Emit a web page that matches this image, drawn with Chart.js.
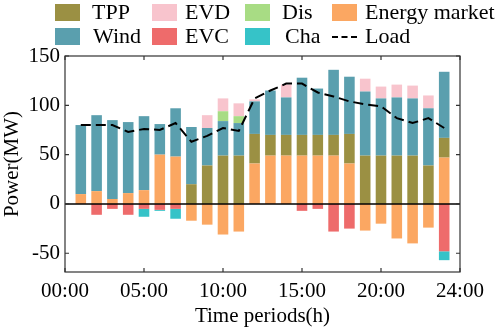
<!DOCTYPE html>
<html>
<head>
<meta charset="utf-8">
<script src="https://cdn.jsdelivr.net/npm/chart.js@4.4.1/dist/chart.umd.min.js"></script>
<style>
  html, body { margin: 0; padding: 0; background: #fff; }
  #wrap { position: relative; width: 498px; height: 331px; }
  #legend { position: absolute; left: 0; top: 0; width: 498px; height: 50px;
            font-family: "Liberation Serif", "Times New Roman", serif; font-size: 22px; color: #000; }
  .item { position: absolute; height: 20px; line-height: 20px; white-space: nowrap; }
  .box { position: absolute; left: 0; top: 1px; width: 25px; height: 17px; }
  .dash { position: absolute; left: 0; top: 9px; width: 25px; height: 0; border-top: 2px dashed #000; }
  .lbl { position: absolute; top: -1px; }
</style>
</head>
<body>
<div id="wrap">
  <canvas id="power-chart" width="498" height="331"></canvas>
  <div id="legend"></div>
</div>
<script>
// Time periods 1..24
const hours = [1,2,3,4,5,6,7,8,9,10,11,12,13,14,15,16,17,18,19,20,21,22,23,24];

const energyMarket = [10,13,5,11,14,50,48,-17,-21,-31,-28,41,49,49,49,49,49,41,-27,-20,-35,-40,-24,47];
const tpp  = [0,0,0,0,0,0,0,20,39,49,49,30,21,21,21,21,21,30,49,49,49,49,39,20];
const wind = [70,77,80,72,75,31,49,58,38,35,33,33,45,38,58,47,66,58,65,58,59,58,58,67];
const dis  = [0,0,0,0,0,0,0,0,0,10,7,0,0,0,0,0,0,0,0,0,0,0,0,0];
const evd  = [0,0,0,0,0,0,0,0,13,13,13,2,0,13,0,0,0,0,13,12,13,13,13,0];
const evc  = [0,-11,-5,-11,-5,-6,-5,0,0,0,0,0,0,0,-7,-5,-28,-25,0,0,0,0,0,-48];
const cha  = [0,0,0,0,-8,-1,-10,0,0,0,0,0,0,0,0,0,0,0,0,0,0,0,0,-9];
const load = [80,80,80,73,76,75,82,63,69,77,74,107,115,122,122,113,109,104,101,99,87,82,87,77];

const xTicks = [0,5,10,15,20,25];
const xTickLabels = ['00:00','05:00','10:00','15:00','20:00','24:00'];
const yTicks = [-50,0,50,100,150];

const colors = {
    tpp: '#9b9043',
    wind: '#5a9fae',
    evd: '#f8c4cd',
    dis: '#a8dc84',
    energy: '#fba762',
    evc: '#ee6b6b',
    cha: '#36c3c8'
};

const pts = arr => hours.map((h, i) => ({ x: h, y: arr[i] }));

const barSet = (label, arr, color) => ({
    type: 'bar',
    label: label,
    data: pts(arr),
    backgroundColor: color,
    borderWidth: 0,
    barPercentage: 0.67,
    categoryPercentage: 1,
    stack: 'power',
    order: 1
});

const serif = '"Liberation Serif", "Times New Roman", serif';

// frame, zero line and inward ticks
const framePlugin = {
    id: 'frame',
    afterDatasetsDraw(chart) {
        const { ctx, chartArea: a, scales } = chart;
        ctx.save();
        ctx.strokeStyle = '#000';
        ctx.lineWidth = 1.5;
        const y0 = scales.y.getPixelForValue(0);
        ctx.beginPath();
        ctx.moveTo(a.left, y0);
        ctx.lineTo(a.right, y0);
        ctx.stroke();
        ctx.strokeStyle = '#333';
        ctx.lineWidth = 1.2;
        ctx.strokeRect(a.left, a.top, a.right - a.left, a.bottom - a.top);
        ctx.beginPath();
        xTicks.forEach(v => {
            const x = scales.x.getPixelForValue(v);
            ctx.moveTo(x, a.bottom); ctx.lineTo(x, a.bottom - 4);
            ctx.moveTo(x, a.top); ctx.lineTo(x, a.top + 4);
        });
        yTicks.forEach(v => {
            const y = scales.y.getPixelForValue(v);
            ctx.moveTo(a.left, y); ctx.lineTo(a.left + 4, y);
            ctx.moveTo(a.right, y); ctx.lineTo(a.right - 4, y);
        });
        ctx.stroke();
        ctx.restore();
    }
};

const powerChart = new Chart(document.getElementById('power-chart').getContext('2d'), {
    data: {
        datasets: [
            {
                type: 'line',
                label: 'Load',
                data: pts(load),
                borderColor: '#000',
                borderWidth: 2,
                borderDash: [10, 5],
                pointRadius: 0,
                tension: 0,
                fill: false,
                stack: 'load',
                order: 0
            },
            barSet('Energy market', energyMarket, colors.energy),
            barSet('TPP', tpp, colors.tpp),
            barSet('Wind', wind, colors.wind),
            barSet('Dis', dis, colors.dis),
            barSet('EVD', evd, colors.evd),
            barSet('EVC', evc, colors.evc),
            barSet('Cha', cha, colors.cha)
        ]
    },
    options: {
        responsive: false,
        animation: false,
        layout: { padding: { top: 56, right: 38, left: 0, bottom: 0 } },
        plugins: {
            legend: { display: false },
            tooltip: { enabled: false }
        },
        scales: {
            x: {
                type: 'linear',
                stacked: true,
                offset: false,
                min: 0,
                max: 25,
                grid: { display: false, drawTicks: false, offset: false },
                border: { display: false },
                afterBuildTicks: s => { s.ticks = xTicks.map(v => ({ value: v })); },
                afterFit: s => { s.height = 59; },
                ticks: {
                    autoSkip: false,
                    maxRotation: 0,
                    padding: 7,
                    color: '#000',
                    font: { family: serif, size: 21 },
                    callback: v => xTickLabels[xTicks.indexOf(v)]
                },
                title: {
                    display: true,
                    text: 'Time periods(h)',
                    color: '#000',
                    padding: { top: 0, bottom: 2 },
                    font: { family: serif, size: 21 }
                }
            },
            y: {
                stacked: true,
                min: -69,
                max: 150,
                grid: { display: false, drawTicks: false },
                border: { display: false },
                afterBuildTicks: s => { s.ticks = yTicks.map(v => ({ value: v })); },
                afterFit: s => { s.width = 65; },
                ticks: {
                    padding: 5,
                    color: '#000',
                    font: { family: serif, size: 21 }
                },
                title: {
                    display: true,
                    text: 'Power(MW)',
                    color: '#000',
                    padding: 0,
                    font: { family: serif, size: 21 }
                }
            }
        }
    },
    plugins: [framePlugin]
});

// legend, laid out in two rows of four columns like the figure
const legendItems = [
    { label: 'TPP', color: colors.tpp, left: 55, top: 3 },
    { label: 'EVD', color: colors.evd, left: 152, top: 3 },
    { label: 'Dis', color: colors.dis, left: 245, top: 3 },
    { label: 'Energy market', color: colors.energy, left: 332, top: 3 },
    { label: 'Wind', color: colors.wind, left: 55, top: 27 },
    { label: 'EVC', color: colors.evc, left: 152, top: 27 },
    { label: 'Cha', color: colors.cha, left: 245, top: 27 },
    { label: 'Load', color: null, left: 332, top: 27 }
];
const textOffset = { 'TPP': 37, 'Wind': 38, 'EVD': 33, 'EVC': 33, 'Dis': 37, 'Cha': 40, 'Energy market': 33, 'Load': 33 };

const legendEl = document.getElementById('legend');
legendItems.forEach(it => {
    const d = document.createElement('div');
    d.className = 'item';
    d.style.left = it.left + 'px';
    d.style.top = it.top + 'px';
    const sym = document.createElement('div');
    if (it.color) {
        sym.className = 'box';
        sym.style.background = it.color;
    } else {
        sym.className = 'dash';
    }
    const t = document.createElement('span');
    t.className = 'lbl';
    t.style.left = textOffset[it.label] + 'px';
    t.textContent = it.label;
    d.appendChild(sym);
    d.appendChild(t);
    legendEl.appendChild(d);
});
</script>
</body>
</html>
